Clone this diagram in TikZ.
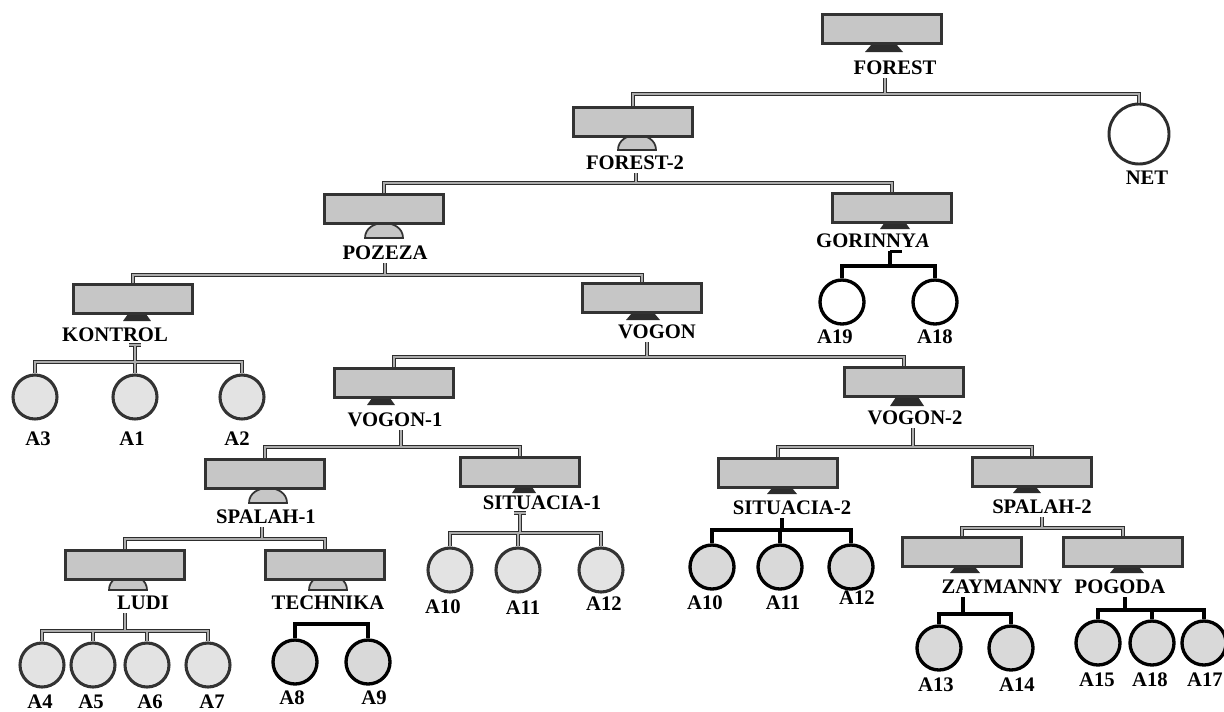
\documentclass[tikz,border=0pt]{standalone}
\usepackage{fontspec}
\setmainfont{Liberation Serif}
\begin{document}
\begin{tikzpicture}[x=0.75pt,y=-0.75pt,
  box/.style={draw=gray!40!black, line width=2.2pt, fill=gray!45, minimum width=89.3pt, minimum height=21.4pt, inner sep=0pt},
  lab/.style={font=\fontsize{15.5}{16}\selectfont\bfseries, inner sep=0pt, outer sep=2.5pt},
  leaflab/.style={font=\fontsize{15.5}{16}\selectfont\bfseries, inner sep=0pt},
  gleaf/.style={circle, draw=gray!40!black, line width=2.3pt, fill=gray!22, minimum size=33pt, inner sep=0pt},
  bleaf/.style={circle, draw=black, line width=2.5pt, fill=gray!30, minimum size=33pt, inner sep=0pt},
  wleaf/.style={circle, draw=black, line width=2.5pt, fill=white, minimum size=33pt, inner sep=0pt},
  netleaf/.style={circle, draw=gray!35!black, line width=2.2pt, fill=white, minimum size=45pt, inner sep=0pt},
  gconn/.style={draw=gray!35!black, line width=0.8pt, double=gray!65, double distance=1.4pt},
  bconn/.style={draw=black, line width=2.5pt},
  dome/.style={draw=gray!40!black, line width=1.3pt, fill=gray!45},
  wedge/.style={fill=gray!35!black}]
\useasboundingbox (0,0) rectangle (1224,711);

% ---- domes and wedges under boxes ----
\filldraw[dome] (618,150) .. controls (618,130) and (656,130) .. (656,150) -- cycle;
\filldraw[dome] (365,238) .. controls (365,218) and (403,218) .. (403,238) -- cycle;
\filldraw[dome] (249,503) .. controls (249,483) and (287,483) .. (287,503) -- cycle;
\filldraw[dome] (109,590) .. controls (109,570) and (147,570) .. (147,590) -- cycle;
\filldraw[dome] (309,590) .. controls (309,570) and (347,570) .. (347,590) -- cycle;
\fill[wedge] (865,52) -- (872,44) -- (896,44) -- (903,52) -- cycle;
\fill[wedge] (880,229) -- (885,222) -- (905,222) -- (910,229) -- cycle;
\fill[wedge] (123,321) -- (128,314) -- (146,314) -- (151,321) -- cycle;
\fill[wedge] (626,320) -- (632,313) -- (654,313) -- (660,320) -- cycle;
\fill[wedge] (367,405) -- (372,398) -- (390,398) -- (395,405) -- cycle;
\fill[wedge] (890,406) -- (896,397) -- (918,397) -- (924,406) -- cycle;
\fill[wedge] (512,493) -- (516,487) -- (532,487) -- (536,493) -- cycle;
\fill[wedge] (767,494) -- (772,488) -- (792,488) -- (797,494) -- cycle;
\fill[wedge] (1013,493) -- (1018,487) -- (1036,487) -- (1041,493) -- cycle;
\fill[wedge] (950,573) -- (955,567) -- (975,567) -- (980,573) -- cycle;
\fill[wedge] (1110,573) -- (1115,567) -- (1139,567) -- (1144,573) -- cycle;

% ---- boxes ----
\node[box] (FOR) at (882,29) {};
\node[box] (F2)  at (633,122) {};
\node[box] (POZ) at (384,209) {};
\node[box] (GOR) at (892,208) {};
\node[box] (KON) at (133,299) {};
\node[box] (VOG) at (642,298) {};
\node[box] (V1)  at (394,383) {};
\node[box] (V2)  at (904,382) {};
\node[box] (SP1) at (265,474) {};
\node[box] (S1)  at (520,472) {};
\node[box] (S2)  at (778,473) {};
\node[box] (SP2) at (1032,472) {};
\node[box] (LUDI) at (125,565) {};
\node[box] (TEC) at (325,565) {};
\node[box] (ZAY) at (962,552) {};
\node[box] (POG) at (1123,552) {};

% ---- box labels ----
\node[lab] (lFOR) at (895,68) {FOREST};
\node[lab] (lF2)  at (635,163) {FOREST-2};
\node[lab] (lPOZ) at (385,253) {POZEZA};
\node[lab] (lGOR) at (873,241) {GORINNY\textit{A}};
\node[lab] (lKON) at (115,335) {KONTROL};
\node[lab] (lVOG) at (657,332) {VOGON};
\node[lab] (lV1)  at (395,420) {VOGON-1};
\node[lab] (lV2)  at (915,418) {VOGON-2};
\node[lab] (lSP1) at (266,517) {SPALAH-1};
\node[lab] (lS1)  at (542,503) {SITUACIA-1};
\node[lab] (lS2)  at (792,508) {SITUACIA-2};
\node[lab] (lSP2) at (1042,507) {SPALAH-2};
\node[lab] (lLUDI) at (143,603) {LUDI};
\node[lab] (lTEC) at (328,603) {TECHNIKA};
\node[lab] (lZAY) at (1002,587) {ZAYMANNY};
\node[lab] (lPOG) at (1120,587) {POGODA};

% ---- leaves ----
\node[netleaf] (net) at (1139,134) {};
\node[leaflab] at (1147,178) {NET};

\node[gleaf] (k3) at (35,397) {};  \node[leaflab] at (38,439) {A3};
\node[gleaf] (k1) at (135,397) {}; \node[leaflab] at (132,439) {A1};
\node[gleaf] (k2) at (242,397) {}; \node[leaflab] at (237,439) {A2};

\node[wleaf] (g19) at (842,302) {}; \node[leaflab] at (835,337) {A19};
\node[wleaf] (g18) at (935,302) {}; \node[leaflab] at (935,337) {A18};

\node[gleaf] (l4) at (42,665) {};  \node[leaflab] at (40,702) {A4};
\node[gleaf] (l5) at (93,665) {};  \node[leaflab] at (91,702) {A5};
\node[gleaf] (l6) at (147,665) {}; \node[leaflab] at (150,702) {A6};
\node[gleaf] (l7) at (208,665) {}; \node[leaflab] at (212,702) {A7};

\node[bleaf] (t8) at (295,662) {}; \node[leaflab] at (292,698) {A8};
\node[bleaf] (t9) at (368,662) {}; \node[leaflab] at (374,698) {A9};

\node[gleaf] (s10) at (450,570) {}; \node[leaflab] at (443,607) {A10};
\node[gleaf] (s11) at (518,570) {}; \node[leaflab] at (523,608) {A11};
\node[gleaf] (s12) at (601,570) {}; \node[leaflab] at (604,604) {A12};

\node[bleaf] (u10) at (712,567) {}; \node[leaflab] at (705,603) {A10};
\node[bleaf] (u11) at (780,567) {}; \node[leaflab] at (783,603) {A11};
\node[bleaf] (u12) at (851,567) {}; \node[leaflab] at (857,598) {A12};

\node[bleaf] (z13) at (939,648) {};  \node[leaflab] at (936,685) {A13};
\node[bleaf] (z14) at (1011,648) {}; \node[leaflab] at (1017,685) {A14};

\node[bleaf] (p15) at (1098,643) {}; \node[leaflab] at (1097,680) {A15};
\node[bleaf] (p18) at (1152,643) {}; \node[leaflab] at (1150,680) {A18};
\node[bleaf] (p17) at (1204,643) {}; \node[leaflab] at (1205,680) {A17};

% ---- bar coordinates ----
\coordinate (bFOR) at (885,94);
\coordinate (bF2)  at (636,183);
\coordinate (bPOZ) at (385,275);
\coordinate (bKON) at (135,362);
\coordinate (bVOG) at (647,357);
\coordinate (bV1)  at (401,447);
\coordinate (bV2)  at (913,447);
\coordinate (bSP1) at (262,539);
\coordinate (bS1)  at (520,533);
\coordinate (bS2)  at (782,530);
\coordinate (bSP2) at (1042,528);
\coordinate (bLUDI) at (125,631);
\coordinate (bTEC) at (330,624);
\coordinate (bGOR) at (890,266);
\coordinate (bZAY) at (963,614);
\coordinate (bPOG) at (1125,610);

% ---- grey connectors ----
\draw[gconn] (bFOR |- lFOR.south) -- (bFOR) (F2.north) |- (bFOR) -| (net.north);
\draw[gconn] (bF2 |- lF2.south) -- (bF2) (POZ.north) |- (bF2) -| (GOR.north);
\draw[gconn] (bPOZ |- lPOZ.south) -- (bPOZ) (KON.north) |- (bPOZ) -| (VOG.north);
\draw[gconn] (bKON |- lKON.south) ++(-6,0) -- ++(12,0)
             (bKON |- lKON.south) -- (bKON)
             (k3.north) |- (bKON) -| (k2.north)
             (k1.north) -- (k1.north |- bKON);
\draw[gconn] (bVOG |- lVOG.south) -- (bVOG) (V1.north) |- (bVOG) -| (V2.north);
\draw[gconn] (bV1 |- lV1.south) -- (bV1) (SP1.north) |- (bV1) -| (S1.north);
\draw[gconn] (bV2 |- lV2.south) -- (bV2) (S2.north) |- (bV2) -| (SP2.north);
\draw[gconn] (bSP1 |- lSP1.south) -- (bSP1) (LUDI.north) |- (bSP1) -| (TEC.north);
\draw[gconn] (bS1 |- lS1.south) ++(-6,0) -- ++(12,0)
             (bS1 |- lS1.south) -- (bS1)
             (s10.north) |- (bS1) -| (s12.north)
             (s11.north) -- (s11.north |- bS1);
\draw[gconn] (bSP2 |- lSP2.south) -- (bSP2) (ZAY.north) |- (bSP2) -| (POG.north);
\draw[gconn] (bLUDI |- lLUDI.south) -- (bLUDI)
             (l4.north) |- (bLUDI) -| (l7.north)
             (l5.north) -- (l5.north |- bLUDI)
             (l6.north) -- (l6.north |- bLUDI);

% ---- black connectors ----
\draw[bconn] (t8.north) |- (bTEC) -| (t9.north);
\draw[bconn] (bS2 |- lS2.south) -- (bS2)
             (u10.north) |- (bS2) -| (u12.north)
             (u11.north) -- (u11.north |- bS2);
\draw[bconn] (bGOR |- lGOR.south) -- ++(12,0)
             (bGOR |- lGOR.south) -- (bGOR)
             (g19.north) |- (bGOR) -| (g18.north);
\draw[bconn] (bZAY |- lZAY.south) -- (bZAY) (z13.north) |- (bZAY) -| (z14.north);
\draw[bconn] (bPOG |- lPOG.south) -- (bPOG)
             (p15.north) |- (bPOG) -| (p17.north)
             (p18.north) -- (p18.north |- bPOG);
\end{tikzpicture}
\end{document}
